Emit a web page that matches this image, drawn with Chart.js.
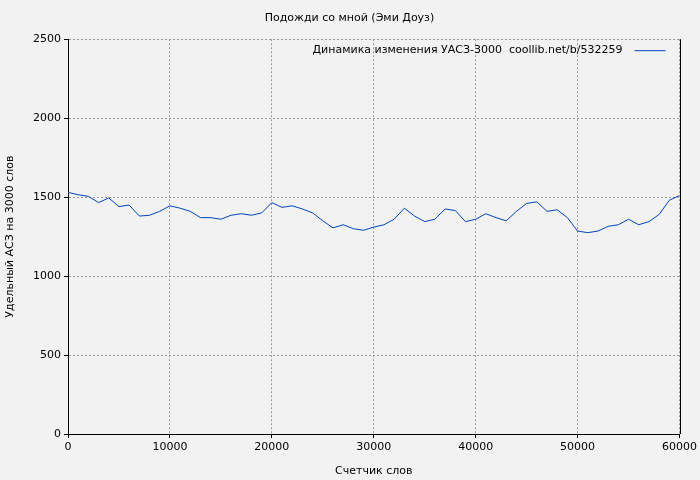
<!DOCTYPE html>
<html><head><meta charset="utf-8">
<script src="https://cdn.jsdelivr.net/npm/chart.js@4"></script>
<style>html,body{margin:0;background:#f2f2f2}#w{width:700px;height:480px}</style>
</head><body><div id="w"><canvas id="c"></canvas></div>
<script>
const xs = [];
for (let i = 0; i <= 60; i++) xs.push(i * 1000);
const values = [1530,1515,1505,1465,1495,1440,1450,1380,1385,1410,1445,1430,1410,1370,1370,1360,1385,1395,1385,1400,1465,1435,1445,1425,1400,1350,1305,1325,1300,1290,1310,1325,1360,1430,1380,1345,1360,1425,1415,1345,1360,1395,1370,1350,1410,1460,1470,1410,1420,1370,1285,1275,1285,1315,1325,1360,1325,1345,1390,1480,1510];
const title = 'Подожди со мной (Эми Доуз)';
const seriesName = 'Динамика изменения УАСЗ-3000  coollib.net/b/532259';
Chart.defaults.font.family = 'DejaVu Sans';
Chart.defaults.font.size = 11;
Chart.defaults.color = '#000';
const legendRight = {
  id:'lr',
  afterDraw(ch){
    const ctx=ch.ctx, a=ch.chartArea;
    ctx.save();
    ctx.font='11px DejaVu Sans';ctx.fillStyle='#000';ctx.textAlign='right';ctx.textBaseline='middle';
    ctx.fillText(seriesName, a.right-57, a.top+11);
    ctx.strokeStyle='#0044bb';ctx.lineWidth=1;
    ctx.beginPath();ctx.moveTo(a.right-45,a.top+11.5);ctx.lineTo(a.right-14,a.top+11.5);ctx.stroke();
    ctx.strokeStyle='#000';ctx.beginPath();ctx.moveTo(Math.round(a.right)+0.5,a.top);ctx.lineTo(Math.round(a.right)+0.5,a.bottom);ctx.stroke();
    ctx.restore();
  }
};
new Chart(document.getElementById('c'), {
  type:'line',
  data:{datasets:[{label:seriesName,data:xs.map((x,i)=>({x,y:values[i]})),borderColor:'#0044bb',borderWidth:1,pointRadius:0,tension:0}]},
  options:{
    responsive:true,maintainAspectRatio:false,animation:false,
    layout:{padding:{right:1,top:0,left:0,bottom:0}},
    plugins:{legend:{display:false},title:{display:true,text:title,padding:{top:12,bottom:14},font:{size:11,weight:'normal'}}},
    scales:{
      x:{type:'linear',min:0,max:60000,ticks:{stepSize:10000,maxRotation:0,callback:v=>String(v)},
         grid:{color:'#999',tickColor:'#000',tickLength:4},border:{color:'#000',dash:[2,2]},
         title:{display:true,text:'Счетчик слов',padding:{top:2,bottom:2}},
         afterFit(s){s.height=46;}},
      y:{min:0,max:2500,ticks:{stepSize:500,callback:v=>String(v)},
         grid:{color:'#999',tickColor:'#000',tickLength:4},border:{color:'#000',dash:[2,2]},
         title:{display:true,text:'Удельный АСЗ на 3000 слов'},
         afterFit(s){s.width=68;}}
    }
  },
  plugins:[legendRight]
});
</script></body></html>
